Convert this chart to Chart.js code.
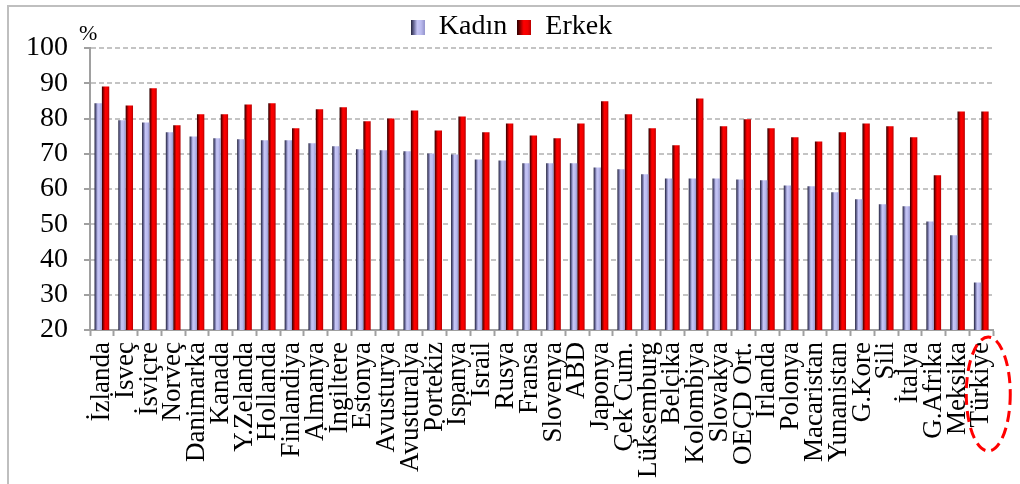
<!DOCTYPE html>
<html>
<head>
<meta charset="utf-8">
<script src="https://cdn.jsdelivr.net/npm/chart.js@4/dist/chart.umd.min.js"></script>
<style>
  html, body { margin: 0; padding: 0; background: #ffffff; overflow: hidden; }
  #wrap { position: relative; width: 1020px; height: 484px; overflow: hidden; }
  #frame { position: absolute; left: 7px; top: 5px; width: 1100px; height: 600px; border: 2px solid #bfbfbf; box-sizing: border-box; }
  canvas { position: absolute; left: 0; top: 0; }
</style>
</head>
<body>
<div id="wrap">
  <div id="frame"></div>
  <canvas id="c" width="1020" height="484"></canvas>
</div>
<script>
const countries = ["İzlanda","İsveç","İsviçre","Norveç","Danimarka","Kanada","Y.Zelanda","Hollanda","Finlandiya","Almanya","İngiltere","Estonya","Avusturya","Avusturalya","Portekiz","İspanya","İsrail","Rusya","Fransa","Slovenya","ABD","Japonya","Çek Cum.","Lüksemburg","Belçika","Kolombiya","Slovakya","OECD Ort.","İrlanda","Polonya","Macaristan","Yunanistan","G.Kore","Şili","İtalya","G.Afrika","Meksika","Türkiye"];
const kadin = [84.3,79.5,78.9,76.1,74.9,74.4,74.1,73.8,73.8,73.0,72.1,71.3,71.0,70.7,70.1,69.8,68.4,68.1,67.3,67.3,67.3,66.1,65.6,64.2,63.0,63.0,63.0,62.7,62.5,61.0,60.8,59.1,57.1,55.7,55.1,50.8,46.9,33.5];
const erkek = [89.1,83.7,88.6,78.1,81.2,81.2,84.0,84.3,77.2,82.6,83.2,79.2,80.0,82.3,76.6,80.6,76.1,78.6,75.2,74.4,78.6,84.9,81.2,77.2,72.4,85.7,77.8,79.8,77.2,74.7,73.5,76.1,78.6,77.8,74.7,63.9,82.0,82.0];
const seriesNames = ["Kadın","Erkek"];
const yTicks = [20,30,40,50,60,70,80,90,100];
const unitLabel = "%";

const CAT_PCT = 0.62;
const stopsK = [[0,'#22223a'],[0.22,'#6c6c9c'],[0.45,'#c6c6f6'],[0.72,'#bcbcf0'],[1,'#9494cc']];
const stopsE = [[0,'#2a0000'],[0.22,'#950000'],[0.45,'#ff0000'],[0.75,'#f20000'],[1,'#b40000']];

function grad(ctx, x0, x1, stops) {
  const g = ctx.createLinearGradient(x0, 0, x1, 0);
  stops.forEach(s => g.addColorStop(s[0], s[1]));
  return g;
}
function barFill(stops, dsIdx) {
  return function(context) {
    const chart = context.chart;
    const xs = chart.scales.x;
    if (!xs || context.dataIndex === undefined) return stops[2][1];
    const c = xs.getPixelForValue(context.dataIndex);
    const w = (xs.right - xs.left) / countries.length * CAT_PCT / 2;
    const x0 = dsIdx === 0 ? c - w : c;
    return grad(chart.ctx, x0, x0 + w, stops);
  };
}
function icon(stops) {
  const cv = document.createElement('canvas');
  cv.width = 14; cv.height = 15;
  const cx = cv.getContext('2d');
  cx.fillStyle = grad(cx, 0, 14, stops);
  cx.fillRect(0, 0, 14, 15);
  return cv;
}
const icons = [icon(stopsK), icon(stopsE)];
const FONT = "'Liberation Serif', 'Times New Roman', serif";

const extras = {
  id: 'extras',
  afterLayout(chart) {
    const lg = chart.legend;
    if (lg) { lg.left += 14; lg.right += 14; lg.top += 3; lg.bottom += 3; }
  },
  afterDraw(chart) {
    const ctx = chart.ctx;
    const xs = chart.scales.x;
    ctx.save();
    ctx.fillStyle = '#000';
    ctx.font = "22px " + FONT;
    ctx.textAlign = 'left';
    ctx.textBaseline = 'alphabetic';
    ctx.fillText(unitLabel, 79, 40);
    // highlight ellipse around the last category label
    const cx = xs.getPixelForValue(countries.length - 1) + 7;
    ctx.strokeStyle = '#ff0000';
    ctx.lineWidth = 3;
    ctx.setLineDash([11, 6]);
    ctx.beginPath();
    ctx.ellipse(cx, 394, 22, 57, 0, 0, Math.PI * 2);
    ctx.stroke();
    ctx.restore();
  }
};

new Chart(document.getElementById('c'), {
  type: 'bar',
  data: {
    labels: countries,
    datasets: [
      { label: seriesNames[0], data: kadin, backgroundColor: barFill(stopsK, 0), borderWidth: 0 },
      { label: seriesNames[1], data: erkek, backgroundColor: barFill(stopsE, 1), borderWidth: 0 }
    ]
  },
  options: {
    responsive: false,
    animation: false,
    layout: { padding: { left: 0, right: 25, top: 0, bottom: 0 } },
    datasets: { bar: { categoryPercentage: CAT_PCT, barPercentage: 1.0 } },
    plugins: {
      tooltip: { enabled: false },
      legend: {
        display: true,
        position: 'top',
        labels: {
          usePointStyle: true,
          boxWidth: 14,
          boxHeight: 15,
          padding: 10,
          color: '#000',
          font: { family: FONT, size: 28 },
          generateLabels: (chart) => chart.data.datasets.map((ds, i) => ({
            text: ds.label, pointStyle: icons[i], fillStyle: '#000', strokeStyle: 'rgba(0,0,0,0)',
            lineWidth: 0, hidden: false, datasetIndex: i, fontColor: '#000'
          }))
        }
      }
    },
    scales: {
      x: {
        afterFit: (s) => { s.height = 154; },
        grid: { offset: true, drawOnChartArea: false, drawTicks: true, tickLength: 6, tickWidth: 2, tickColor: '#a0a0a0', color: '#a0a0a0' },
        border: { display: true, color: '#a0a0a0', width: 2 },
        ticks: {
          autoSkip: false, maxRotation: 90, minRotation: 90, padding: 6,
          color: '#000', font: { family: FONT, size: 27 }
        }
      },
      y: {
        min: 20, max: 100,
        afterFit: (s) => { s.width = 90; },
        afterBuildTicks: (s) => { s.ticks = yTicks.map(v => ({ value: v })); },
        grid: { color: '#c4c4c4', lineWidth: 2, drawTicks: true, tickLength: 6, tickWidth: 2, tickColor: '#a0a0a0', tickBorderDash: [] },
        border: { display: true, color: '#a0a0a0', width: 2, dash: [5, 3] },
        ticks: { autoSkip: false, padding: 16, color: '#000', font: { family: FONT, size: 28 } }
      }
    }
  },
  plugins: [extras]
});
</script>
</body>
</html>
